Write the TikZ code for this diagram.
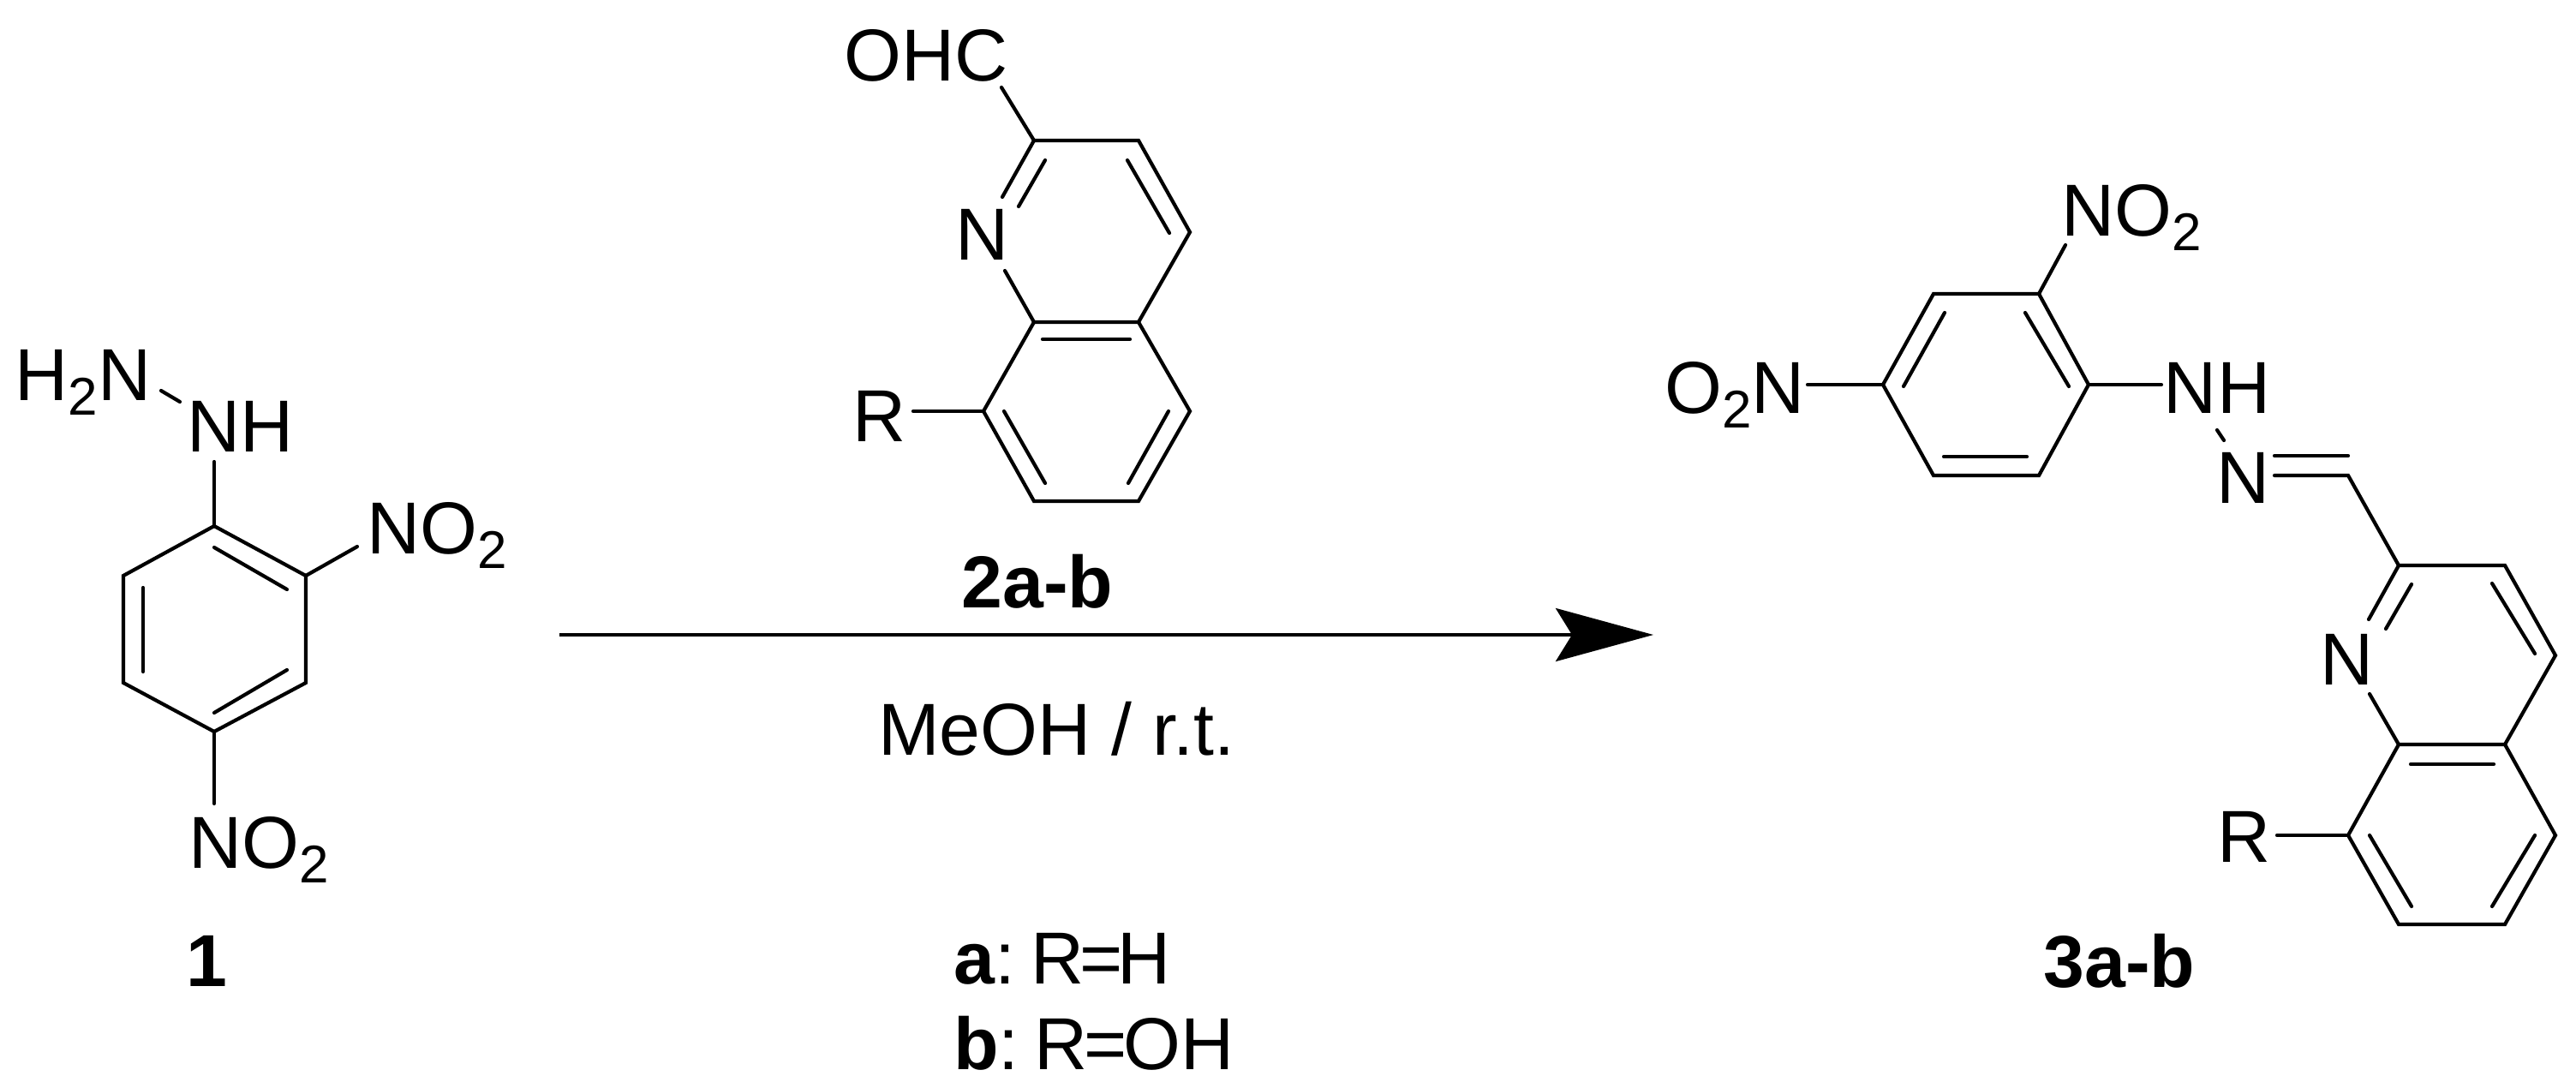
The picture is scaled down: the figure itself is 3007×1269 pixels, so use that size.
\documentclass[tikz,border=0pt]{standalone}
\usepackage{fontspec}
\setmainfont{Liberation Sans}
\usetikzlibrary{arrows.meta}
\newcommand{\chemsub}[1]{\raisebox{-8.5pt}{\fontsize{31}{31}\selectfont #1}}
\tikzset{
  bond/.style={line width=2.1pt,line cap=round,line join=miter,black},
  atomlabel/.style={anchor=base,inner sep=0pt,outer sep=0pt,font=\fontsize{43}{50}\selectfont,text=black},
  reactionarrow/.style={line width=2.1pt,-{Stealth[length=57pt,width=31pt,inset=9.5pt]}}
}
\begin{document}
\begin{tikzpicture}[x=0.5pt,y=-0.5pt]
\useasboundingbox (0,0) rectangle (3007,1269);
% ---------- compound 1 ----------
\coordinate (a1) at (250,614);
\coordinate (a2) at (357,672);
\coordinate (a3) at (357,797);
\coordinate (a4) at (250,854);
\coordinate (a5) at (144,797);
\coordinate (a6) at (144,672);
\coordinate (a1i) at (250,639);
\coordinate (a2i) at (335,688);
\coordinate (a3i) at (335,782);
\coordinate (a4i) at (250,832);
\coordinate (a5i) at (167,784);
\coordinate (a6i) at (167,686);
\coordinate (aNHb) at (250,539);
\coordinate (aNOb) at (417,638);
\coordinate (aNObb) at (250,938);
\coordinate (aNNa) at (188,456);
\coordinate (aNNb) at (210,469);
\node[atomlabel] (aH2N) at (97,467) {H\chemsub{2}N};
\node[atomlabel] (aNH) at (281,527) {NH};
\node[atomlabel] (aNO2) at (510,646) {NO\chemsub{2}};
\node[atomlabel] (aNO2b) at (302,1013) {NO\chemsub{2}};
\node[atomlabel] (aname) at (241,1151) {\textbf{1}};
\draw[bond] (a1) -- (a2) -- (a3) -- (a4) -- (a5) -- (a6) -- cycle;
\draw[bond] (a1i) -- (a2i);
\draw[bond] (a3i) -- (a4i);
\draw[bond] (a5i) -- (a6i);
\draw[bond] (aNHb) -- (a1);
\draw[bond] (a2) -- (aNOb);
\draw[bond] (a4) -- (aNObb);
\draw[bond] (aNNa) -- (aNNb);
% ---------- compound 2 ----------
\coordinate (b2) at (1207,164);
\coordinate (b3) at (1329,164);
\coordinate (b4) at (1389,271);
\coordinate (b4a) at (1329,376);
\coordinate (b8a) at (1207,376);
\coordinate (b8) at (1148,480);
\coordinate (b7) at (1207,585);
\coordinate (b6) at (1329,585);
\coordinate (b5) at (1389,480);
\coordinate (bNa) at (1170,230);
\coordinate (bNb) at (1173,316);
\coordinate (bNi) at (1189,241);
\coordinate (b2i) at (1220,187);
\coordinate (b3i) at (1316,187);
\coordinate (b4i) at (1365,272);
\coordinate (b8ai) at (1217,396);
\coordinate (b4ai) at (1319,396);
\coordinate (b8i) at (1172,480);
\coordinate (b7i) at (1220,564);
\coordinate (b6i) at (1317,564);
\coordinate (b5i) at (1364,480);
\coordinate (bCHO) at (1169,102);
\coordinate (bRe) at (1066,480);
\node[atomlabel] (bOHC) at (1081,94) {OHC};
\node[atomlabel] (bN) at (1147,303) {N};
\node[atomlabel] (bR) at (1027,515) {R};
\node[atomlabel] (bname) at (1211,709) {\textbf{2a-b}};
\draw[bond] (bNa) -- (b2) -- (b3) -- (b4) -- (b4a) -- (b8a) -- (bNb);
\draw[bond] (b8a) -- (b8) -- (b7) -- (b6) -- (b5) -- (b4a);
\draw[bond] (bNi) -- (b2i);
\draw[bond] (b3i) -- (b4i);
\draw[bond] (b8ai) -- (b4ai);
\draw[bond] (b8i) -- (b7i);
\draw[bond] (b6i) -- (b5i);
\draw[bond] (bCHO) -- (b2);
\draw[bond] (bRe) -- (b8);
% ---------- reaction arrow and conditions ----------
\coordinate (arrowstart) at (653,741);
\coordinate (arrowend) at (1930,741);
\draw[reactionarrow] (arrowstart) -- (arrowend);
\node[atomlabel] (cond) at (1233,881) {MeOH / r.t.};
\node[atomlabel] (ra) at (1240,1148) {\textbf{a}:\hspace{9pt}R\kern-2.7pt=\kern-2.7pt H};
\node[atomlabel] (rb) at (1277,1248) {\textbf{b}:\hspace{9pt}R\kern-2pt=\kern-2pt OH};
% ---------- compound 3 ----------
\coordinate (c1) at (2198,449);
\coordinate (c2) at (2257,343);
\coordinate (c3) at (2380,343);
\coordinate (c4) at (2438,449);
\coordinate (c5) at (2380,555);
\coordinate (c6) at (2257,555);
\coordinate (c1i) at (2222,451);
\coordinate (c2i) at (2270,365);
\coordinate (c3i) at (2364,365);
\coordinate (c4i) at (2415,451);
\coordinate (c5i) at (2366,533);
\coordinate (c6i) at (2269,533);
\coordinate (cNOe) at (2411,286);
\coordinate (cONe) at (2110,449);
\coordinate (cNHe) at (2523,449);
\coordinate (cNNa) at (2588,502);
\coordinate (cNNb) at (2596,514);
\coordinate (cDa) at (2655,532);
\coordinate (cDb) at (2741,532);
\coordinate (cDc) at (2655,555);
\coordinate (cCH) at (2741,555);
\coordinate (d2) at (2800,660);
\coordinate (d3) at (2924,660);
\coordinate (d4) at (2983,765);
\coordinate (d4a) at (2924,869);
\coordinate (d8a) at (2800,869);
\coordinate (d8) at (2741,975);
\coordinate (d7) at (2800,1079);
\coordinate (d6) at (2924,1079);
\coordinate (d5) at (2983,975);
\coordinate (dNa) at (2765,723);
\coordinate (dNb) at (2766,810);
\coordinate (dNi) at (2785,734);
\coordinate (d2i) at (2815,682);
\coordinate (d3i) at (2909,681);
\coordinate (d4i) at (2959,763);
\coordinate (d8ai) at (2814,892);
\coordinate (d4ai) at (2911,892);
\coordinate (d8i) at (2766,975);
\coordinate (d7i) at (2815,1058);
\coordinate (d6i) at (2909,1058);
\coordinate (d5i) at (2959,975);
\coordinate (dRe) at (2658,975);
\node[atomlabel] (cNO2) at (2488,275) {NO\chemsub{2}};
\node[atomlabel] (cO2N) at (2025,482) {O\chemsub{2}N};
\node[atomlabel] (cNH) at (2588,482) {NH};
\node[atomlabel] (cN) at (2619,587) {N};
\node[atomlabel] (dN) at (2740,799) {N};
\node[atomlabel] (dR) at (2620,1006) {R};
\node[atomlabel] (cname) at (2474,1152) {\textbf{3a-b}};
\draw[bond] (c1) -- (c2) -- (c3) -- (c4) -- (c5) -- (c6) -- cycle;
\draw[bond] (c1i) -- (c2i);
\draw[bond] (c3i) -- (c4i);
\draw[bond] (c5i) -- (c6i);
\draw[bond] (c3) -- (cNOe);
\draw[bond] (cONe) -- (c1);
\draw[bond] (c4) -- (cNHe);
\draw[bond] (cNNa) -- (cNNb);
\draw[bond] (cDa) -- (cDb);
\draw[bond] (cDc) -- (cCH) -- (d2);
\draw[bond] (dNa) -- (d2) -- (d3) -- (d4) -- (d4a) -- (d8a) -- (dNb);
\draw[bond] (d8a) -- (d8) -- (d7) -- (d6) -- (d5) -- (d4a);
\draw[bond] (dNi) -- (d2i);
\draw[bond] (d3i) -- (d4i);
\draw[bond] (d8ai) -- (d4ai);
\draw[bond] (d8i) -- (d7i);
\draw[bond] (d6i) -- (d5i);
\draw[bond] (dRe) -- (d8);
\end{tikzpicture}
\end{document}
